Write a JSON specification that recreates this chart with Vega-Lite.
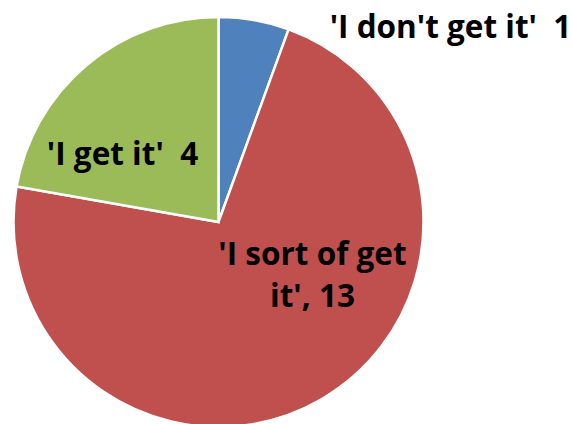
{
  "$schema": "https://vega.github.io/schema/vega-lite/v6.json",
  "width": 437,
  "height": 444,
  "autosize": {"type": "none"},
  "padding": {"left": 0, "top": 0, "right": 135, "bottom": 0},
  "background": "white",
  "view": {"stroke": null},
  "data": {
    "values": [
      {"k": 1, "label": "'I don't get it'", "count": 1, "text": "'I don't get it'\u00a0\u00a01"},
      {"k": 2, "label": "'I sort of get it'", "count": 13, "text": "'I sort of get\nit', 13"},
      {"k": 3, "label": "'I get it'", "count": 4, "text": "'I get it'\u00a0\u00a04"}
    ]
  },
  "layer": [
    {
      "mark": {"type": "arc", "outerRadius": 205, "stroke": "white", "strokeWidth": 2.5},
      "encoding": {
        "theta": {"field": "count", "type": "quantitative", "stack": true},
        "order": {"field": "k", "type": "quantitative"},
        "color": {
          "field": "label",
          "type": "nominal",
          "scale": {
            "domain": ["'I don't get it'", "'I sort of get it'", "'I get it'"],
            "range": ["#4F81BD", "#C0504D", "#9BBB59"]
          },
          "legend": null
        }
      }
    },
    {
      "transform": [{"filter": "datum.k == 1"}],
      "mark": {"type": "text", "font": "Open Sans", "fontWeight": "bold", "fontSize": 31.5, "align": "center", "baseline": "alphabetic", "dx": 232, "dy": -184, "color": "black"},
      "encoding": {"text": {"field": "text"}}
    },
    {
      "transform": [{"filter": "datum.k == 3"}],
      "mark": {"type": "text", "font": "Open Sans", "fontWeight": "bold", "fontSize": 31.5, "align": "center", "baseline": "alphabetic", "dx": -96, "dy": -57, "color": "black"},
      "encoding": {"text": {"field": "text"}}
    },
    {
      "transform": [{"filter": "datum.k == 2"}],
      "mark": {"type": "text", "font": "Open Sans", "fontWeight": "bold", "fontSize": 31.5, "align": "center", "baseline": "alphabetic", "lineBreak": "\n", "lineHeight": 42, "dx": 94, "dy": 43, "color": "black"},
      "encoding": {"text": {"field": "text"}}
    }
  ]
}
